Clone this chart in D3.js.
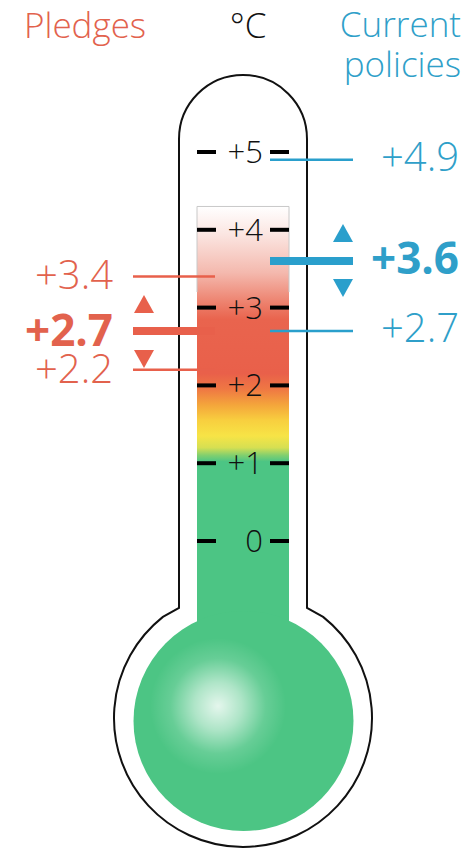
<!DOCTYPE html>
<html>
<head>
<meta charset="utf-8">
<script src="https://cdn.jsdelivr.net/npm/d3@7"></script>
<style>
  html, body { margin: 0; padding: 0; background: #fff; }
  svg { display: block; font-family: "Open Sans", "Noto Sans", sans-serif; }
</style>
</head>
<body>
<div class="wrapper"></div>
<script>
// chart values
var tickValues = [0, 1, 2, 3, 4, 5];
var pledgeValues = [3.4, 2.7, 2.2];
var pledgeMain = 2.7;
var policyValues = [4.9, 3.6, 2.7];
var policyMain = 3.6;
var fluidTop = 4.3;
var gradientTemps = [4.3, 3.95, 3.45, 3.05, 2.85, 2.15, 1.95, 1.75, 1.55, 1.35, 1.2, 1.1, 1.02];
var gradientColors = ["#ffffff", "#fbe6e2", "#f4b9ae", "#ed7f6b", "#e9644e", "#e9604a",
                      "#ef7843", "#f4a53b", "#f8cf3f", "#f7e446", "#d6df52", "#80cf6f", "#4cc584"];

var width = 475, height = 848;
var cx = 243;
var red = "#e8604b", redText = "#e2624d";
var blue = "#2a9fcc", blueText = "#2f9fc9";
var green = "#4cc584";

var y = d3.scaleLinear().domain([0, 5]).range([541, 152]);

var fmt = function(v) { return v === 0 ? "0" : "+" + d3.format(".1f")(v); };
var fmtTick = function(v) { return v === 0 ? "0" : "+" + v; };

var svg = d3.select(".wrapper").append("svg")
    .attr("width", width)
    .attr("height", height);

var defs = svg.append("defs");

// fluid gradient, placed in user space so stops follow the scale
var gy0 = y(gradientTemps[0]), gy1 = y(gradientTemps[gradientTemps.length - 1]);
var grad = defs.append("linearGradient")
    .attr("id", "fluid")
    .attr("gradientUnits", "userSpaceOnUse")
    .attr("x1", 0).attr("x2", 0)
    .attr("y1", gy0)
    .attr("y2", gy1);
grad.selectAll("stop")
    .data(gradientTemps)
  .enter().append("stop")
    .attr("offset", function(d) { return (y(d) - gy0) / (gy1 - gy0); })
    .attr("stop-color", function(d, i) { return gradientColors[i]; });

var shine = defs.append("radialGradient").attr("id", "shine");
shine.append("stop").attr("offset", 0).attr("stop-color", "#fff").attr("stop-opacity", 0.85);
shine.append("stop").attr("offset", 0.35).attr("stop-color", "#fff").attr("stop-opacity", 0.55);
shine.append("stop").attr("offset", 0.7).attr("stop-color", "#fff").attr("stop-opacity", 0.15);
shine.append("stop").attr("offset", 1).attr("stop-color", "#fff").attr("stop-opacity", 0);

// outline of the glass
var tubeL = 179, tubeR = 307, tubeArcY = 139, tubeR2 = (tubeR - tubeL) / 2;
var bulbY = 718, bulbR = 129;
var outline = d3.path();
outline.moveTo(tubeL, 608);
outline.lineTo(tubeL, tubeArcY);
outline.arc(cx, tubeArcY, tubeR2, Math.PI, 0);
outline.lineTo(tubeR, 608);
var ka = Math.atan2(617 - bulbY, 323 - cx);
outline.lineTo(cx + bulbR * Math.cos(ka), bulbY + bulbR * Math.sin(ka));
outline.arc(cx, bulbY, bulbR, ka, Math.PI - ka);
outline.closePath();

svg.append("path")
    .attr("d", outline.toString())
    .attr("fill", "#fff")
    .attr("stroke", "#111")
    .attr("stroke-width", 2);

// fluid
var colL = 197, colR = 289;
svg.append("rect")
    .attr("x", colL).attr("y", y(fluidTop))
    .attr("width", colR - colL)
    .attr("height", 640 - y(fluidTop))
    .attr("fill", "url(#fluid)");
svg.append("path")
    .attr("d", "M" + colL + "," + y(3.2) + "V" + y(fluidTop) + "H" + colR + "V" + y(3.2))
    .attr("fill", "none")
    .attr("stroke", "#c8c8c8")
    .attr("stroke-width", 1);
svg.append("circle")
    .attr("cx", cx + 0.5).attr("cy", 721).attr("r", 110)
    .attr("fill", green);
svg.append("circle")
    .attr("cx", 218).attr("cy", 706).attr("r", 68)
    .attr("fill", "url(#shine)");

// ticks
var tick = svg.selectAll(".tick")
    .data(tickValues)
  .enter().append("g")
    .attr("class", "tick");
tick.append("line")
    .attr("x1", colL).attr("x2", 216)
    .attr("y1", function(d) { return y(d); }).attr("y2", function(d) { return y(d); })
    .attr("stroke", "#000").attr("stroke-width", 4);
tick.append("line")
    .attr("x1", 270).attr("x2", colR)
    .attr("y1", function(d) { return y(d); }).attr("y2", function(d) { return y(d); })
    .attr("stroke", "#000").attr("stroke-width", 4);
tick.append("text")
    .attr("x", 263)
    .attr("y", function(d) { return y(d) + 11; })
    .attr("text-anchor", "end")
    .attr("font-size", 31)
    .attr("font-weight", 300)
    .attr("fill", "#111")
    .text(fmtTick);

// triangles
function tri(px, py, up) {
  var w = 10, h = 9;
  return up
    ? "M" + (px - w) + "," + (py + h) + "L" + px + "," + (py - h) + "L" + (px + w) + "," + (py + h) + "Z"
    : "M" + (px - w) + "," + (py - h) + "L" + px + "," + (py + h) + "L" + (px + w) + "," + (py - h) + "Z";
}

// pledges (left)
var pl = svg.selectAll(".pledge")
    .data(pledgeValues)
  .enter().append("g")
    .attr("class", "pledge");
pl.append("line")
    .attr("x1", 133).attr("x2", 215)
    .attr("y1", function(d) { return y(d); }).attr("y2", function(d) { return y(d); })
    .attr("stroke", red)
    .attr("stroke-width", function(d) { return d === pledgeMain ? 8 : 2.5; });
pl.append("text")
    .attr("x", 113)
    .attr("y", function(d) { return y(d) + (d === pledgeMain ? 15 : 13); })
    .attr("text-anchor", "end")
    .attr("font-size", function(d) { return d === pledgeMain ? 44 : 40; })
    .attr("font-weight", function(d) { return d === pledgeMain ? 700 : 300; })
    .attr("fill", redText)
    .text(fmt);
svg.append("path").attr("d", tri(144, y(pledgeMain) - 27, true)).attr("fill", red);
svg.append("path").attr("d", tri(144, y(pledgeMain) + 28, false)).attr("fill", red);

// current policies (right)
var cp = svg.selectAll(".policy")
    .data(policyValues)
  .enter().append("g")
    .attr("class", "policy");
cp.append("line")
    .attr("x1", 270).attr("x2", 353)
    .attr("y1", function(d) { return y(d); }).attr("y2", function(d) { return y(d); })
    .attr("stroke", blue)
    .attr("stroke-width", function(d) { return d === policyMain ? 8 : 2.5; });
cp.append("text")
    .attr("x", 459)
    .attr("y", function(d) { return y(d) + (d === policyMain ? 13 : 11); })
    .attr("text-anchor", "end")
    .attr("font-size", function(d) { return d === policyMain ? 44 : 40; })
    .attr("font-weight", function(d) { return d === policyMain ? 700 : 300; })
    .attr("fill", blueText)
    .text(fmt);
svg.append("path").attr("d", tri(343, y(policyMain) - 28, true)).attr("fill", blue);
svg.append("path").attr("d", tri(343, y(policyMain) + 27, false)).attr("fill", blue);

// headers
svg.append("text")
    .attr("x", 24).attr("y", 38)
    .attr("font-size", 35).attr("font-weight", 300)
    .attr("fill", redText)
    .text("Pledges");
svg.append("text")
    .attr("x", 248).attr("y", 38)
    .attr("text-anchor", "middle")
    .attr("font-size", 35).attr("font-weight", 300)
    .attr("fill", "#111")
    .text("°C");
svg.append("text")
    .attr("x", 461).attr("y", 37)
    .attr("text-anchor", "end")
    .attr("font-size", 35).attr("font-weight", 300)
    .attr("fill", blueText)
    .text("Current");
svg.append("text")
    .attr("x", 461).attr("y", 77)
    .attr("text-anchor", "end")
    .attr("font-size", 35).attr("font-weight", 300)
    .attr("fill", blueText)
    .text("policies");
</script>
</body>
</html>
